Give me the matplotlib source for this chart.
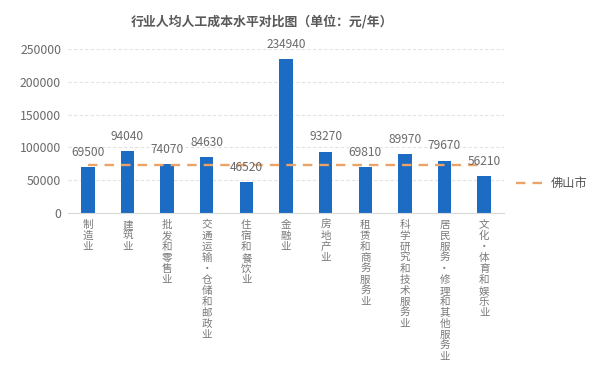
import matplotlib
matplotlib.use("Agg")
import matplotlib.pyplot as plt

plt.rcParams['font.family'] = ['Noto Sans CJK SC', 'DejaVu Sans']

categories = ["制造业", "建筑业", "批发和零售业", "交通运输、仓储和邮政业", "住宿和餐饮业",
              "金融业", "房地产业", "租赁和商务服务业", "科学研究和技术服务业",
              "居民服务、修理和其他服务业", "文化、体育和娱乐业"]
values = [69500, 94040, 74070, 84630, 46520, 234940, 93270, 69810, 89970, 79670, 56210]
city_value = 73200
city_label = "佛山市"
title = "行业人均人工成本水平对比图（单位：元/年）"
yticks = [0, 50000, 100000, 150000, 200000, 250000]

fig = plt.figure(figsize=(5.94, 3.68), dpi=100)
ax = fig.add_axes([68/594, 1-213/368, (504-68)/594, (213-49)/368])

x = list(range(len(categories)))
ax.bar(x, values, width=0.34, color="#1b6cc2", zorder=2)
ax.plot([x[0], x[-1]], [city_value, city_value], ls=(0, (4, 3)), color="#eba368",
        lw=1.7, zorder=3)

for xi, v in zip(x, values):
    ax.annotate(str(v), (xi, v), xytext=(0, 6), textcoords="offset points",
                ha="center", va="bottom", fontsize=8.6, color="#6a6a6a", zorder=4)

# vertical (stacked) category labels
vert = {"、": "・"}
px = 72 / 100
for xi, cat in zip(x, categories):
    for k, ch in enumerate(cat):
        ax.annotate(vert.get(ch, ch), (xi, 0), xycoords=("data", "axes fraction"),
                    xytext=(0, -(7 + 11 * k) * px), textcoords="offset points",
                    ha="center", va="top", fontsize=7.6, color="#7a7a7a",
                    annotation_clip=False)

ax.set_xlim(-0.5, len(categories) - 0.5)
ax.set_ylim(0, 250000)
ax.set_yticks(yticks)
ax.set_yticklabels([str(t) for t in yticks], fontsize=8.8, color="#6a6a6a")
ax.tick_params(axis="y", length=0, pad=5)
ax.set_xticks(x)
ax.set_xticklabels([])
ax.tick_params(axis="x", length=0)

for s in ["top", "right", "left"]:
    ax.spines[s].set_visible(False)
ax.spines["bottom"].set_color("#d9d9d9")
ax.yaxis.grid(True, color="#e3e3e3", ls=(0, (3, 2)), lw=0.8, zorder=0)
ax.set_axisbelow(True)

# legend
fig.lines.append(plt.Line2D([516/594, 548/594], [1-183/368, 1-183/368],
                            transform=fig.transFigure, ls=(0, (4, 3)),
                            color="#eba368", lw=1.7))
fig.text(551/594, 1-183/368, city_label, ha="left", va="center", fontsize=8.8,
         color="#555555")

fig.text(262/594, 1-21/368, title, ha="center", va="center", fontsize=9.3,
         fontweight="bold", color="#595959")

fig.savefig("out.png", dpi=100, facecolor="white")
